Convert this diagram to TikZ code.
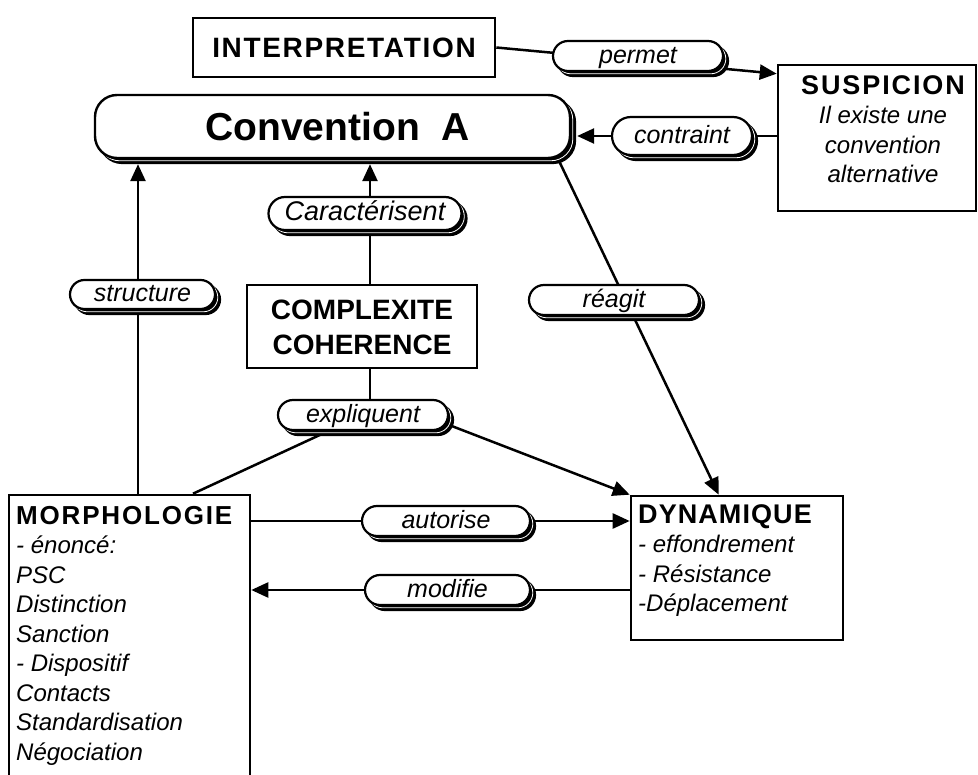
\documentclass[tikz,border=0pt]{standalone}
\usepackage{fontspec}
\setmainfont{Liberation Sans}
\newfontfamily\lspA[LetterSpace=4]{Liberation Sans}
\newfontfamily\lspB[LetterSpace=7]{Liberation Sans}
\newfontfamily\lspC[LetterSpace=6]{Liberation Sans}
\usetikzlibrary{arrows.meta,shapes.misc,shadows,backgrounds,calc}
\begin{document}
\begin{tikzpicture}[x=1pt,y=-1pt,
  box/.style={draw, line width=2.6pt, fill=white, inner sep=0pt},
  txt/.style={inner sep=0pt, font=\fontsize{24}{29.5}\selectfont\itshape},
  shadowed/.style={
    general shadow={shadow xshift=5pt, shadow yshift=-5pt, fill=black, draw=black, line width=2.2pt},
    general shadow={shadow xshift=2.8pt, shadow yshift=-2.8pt, draw=white, line width=0.8pt}},
  pill/.style={rounded rectangle, draw, line width=2.2pt, fill=white, inner sep=0pt,
    text height=19pt, text depth=4pt,
    font=\fontsize{25}{28}\selectfont\itshape, shadowed},
  bigpill/.style={pill, font=\fontsize{27}{30}\selectfont\itshape},
  convbox/.style={rectangle, rounded corners=22pt, draw, line width=2.4pt, fill=white, inner sep=0pt,
    font=\fontsize{39}{45}\selectfont\bfseries, shadowed},
  conn/.style={line width=2.5pt},
  arr/.style={conn, -{Triangle[length=17pt,width=15pt]}}
]
\useasboundingbox (0,0) rectangle (978,775);

% boxes
\node[box, minimum width=302pt, minimum height=59pt,
      font=\lspC\bfseries\fontsize{28}{34}\selectfont] (int) at (344,47.5) {INTERPRETATION};
\node[box, minimum width=198pt, minimum height=146pt] (susp) at (877,138) {};
\node[txt, anchor=north, align=center] (susptext) at (883,75)
  {{\lspB\upshape\bfseries\fontsize{27}{29.5}\selectfont SUSPICION}\\Il existe une\\convention\\alternative};
\node[convbox, minimum width=475pt, minimum height=63pt] (conv) at (332.5,126.5) {\hspace*{10pt}Convention\ \ A};
\node[box, minimum width=230pt, minimum height=83pt] (cc) at (362,326.5) {};
\node[anchor=north, align=center, inner sep=0pt, font=\bfseries\fontsize{28}{35}\selectfont]
  (cctext) at (362,299.5) {COMPLEXITE\\COHERENCE};
\node[box, minimum width=241pt, minimum height=305pt] (morph) at (129.5,647.5) {};
\node[txt, anchor=north west, align=left] (morphtext) at (16,506)
  {{\lspB\upshape\bfseries\fontsize{26}{29.5}\selectfont MORPHOLOGIE}\\- énoncé:\\PSC\\Distinction\\Sanction\\- Dispositif\\Contacts\\Standardisation\\Négociation};
\node[box, minimum width=212pt, minimum height=144pt] (dyn) at (737,568) {};
\node[txt, anchor=north west, align=left] (dyntext) at (638,504)
  {{\lspA\upshape\bfseries\fontsize{27}{29.5}\selectfont DYNAMIQUE}\\- effondrement\\- Résistance\\-Déplacement};

% labels
\node[pill, minimum width=170pt, minimum height=30pt] (permet) at (638,56) {permet};
\node[pill, minimum width=140pt, minimum height=38pt] (contraint) at (682,136) {contraint};
\node[pill, minimum width=145pt, minimum height=29pt] (structure) at (142.5,294.5) {structure};
\node[bigpill, minimum width=193pt, minimum height=33pt] (caract) at (365,213.5) {Caractérisent};
\node[pill, minimum width=170pt, minimum height=30pt] (reagit) at (614,300) {réagit};
\node[pill, minimum width=170pt, minimum height=30pt] (expl) at (363,415) {expliquent};
\node[pill, minimum width=168pt, minimum height=30pt] (aut) at (446,521) {autorise};
\node[pill, minimum width=165pt, minimum height=30pt] (modi) at (447.5,590) {modifie};

% connectors
\begin{pgfonlayer}{background}
\coordinate (suspin) at ([yshift=-10pt]susp.north west);
\draw[arr] (int.east) -- (suspin);
\coordinate (convr) at ([xshift=6pt]conv.east);
\draw[arr] (susp.west |- contraint) -- (convr |- contraint);
\coordinate (convb) at ([yshift=-5pt]conv.south);
\coordinate (stop) at ([xshift=8.5pt]morph.north);
\draw[arr] (stop) -- (stop |- convb);
\coordinate (ctop) at ([xshift=8pt]cc.north);
\draw[arr] (ctop) -- (ctop |- convb);
\draw[conn] (ctop |- cc.south) -- (ctop |- expl.north);
\coordinate (mtop) at ([xshift=63.5pt]morph.north);
\draw[conn] (mtop) -- (expl);
\draw[arr] ([yshift=-10pt]expl.east) -- (dyn.north west);
\coordinate (cstart) at ([xshift=-13pt]conv.south east);
\coordinate (dtop) at ([xshift=89pt]dyn.north west);
\draw[arr] (cstart) -- (dtop);
\draw[arr] (morph.east |- aut) -- (dyn.west |- aut);
\draw[arr] (dyn.west |- modi) -- (morph.east |- modi);
\end{pgfonlayer}
\end{tikzpicture}
\end{document}
